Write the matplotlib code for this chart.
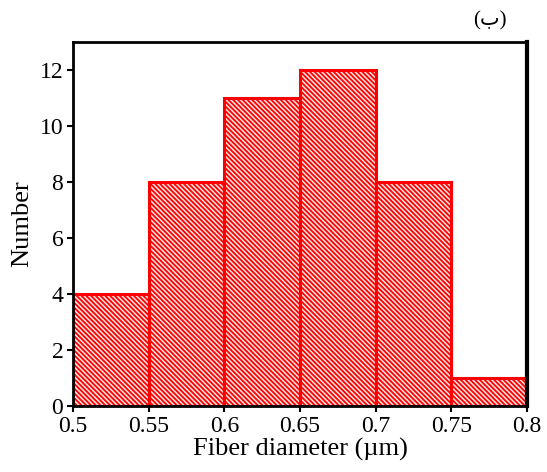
import matplotlib
matplotlib.use("Agg")
import matplotlib.pyplot as plt
import numpy as np

bin_edges = [0.5, 0.55, 0.6, 0.65, 0.7, 0.75, 0.8]
counts = [4, 8, 11, 12, 8, 1]
xticks = [0.5, 0.55, 0.6, 0.65, 0.7, 0.75, 0.8]
xtick_labels = ["0.5", "0.55", "0.6", "0.65", "0.7", "0.75", "0.8"]
yticks = [0, 2, 4, 6, 8, 10, 12]

plt.rcParams['font.family'] = ['Liberation Serif', 'DejaVu Serif']
plt.rcParams['hatch.color'] = '#ff0000'
plt.rcParams['hatch.linewidth'] = 1.3

fig = plt.figure(figsize=(5.47, 4.72), dpi=100)
ax = fig.add_axes([0.1335, 0.14, 0.83, 0.771])

lefts = bin_edges[:-1]
widths = np.diff(bin_edges)
ax.bar(lefts, counts, width=widths, align='edge', facecolor='#ffe4e4',
       edgecolor='#ff0000', linewidth=2.2, hatch='\\\\\\\\\\\\\\')

ax.set_xlim(0.5, 0.8)
ax.set_ylim(0, 13)
ax.set_xticks(xticks)
ax.set_xticklabels(xtick_labels)
ax.set_yticks(yticks)
ax.tick_params(direction='out', length=4, width=1.5, labelsize=17, pad=3)
for s in ax.spines.values():
    s.set_linewidth(2)
ax.spines['right'].set_linewidth(3)
ax.set_xlabel('Fiber diameter (µm)', fontsize=19, labelpad=1)
ax.set_ylabel('Number', fontsize=19, labelpad=5)
fig.text(0.895, 0.955, '(ب)', fontsize=15, ha='center', va='center',
         family=['Liberation Serif', 'DejaVu Sans'])

fig.savefig('out.png', dpi=100)
